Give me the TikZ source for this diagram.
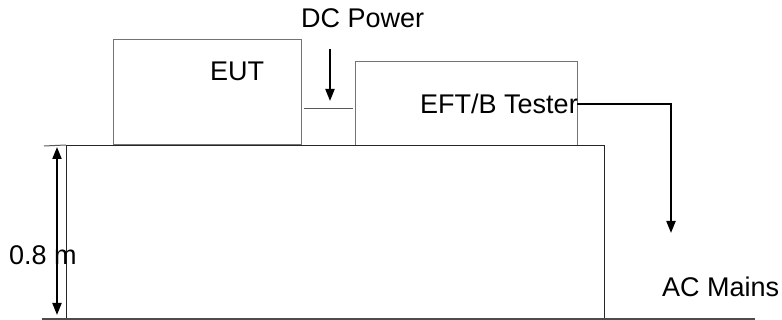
\documentclass[tikz,border=0pt]{standalone}
\usepackage{fontspec}
\setmainfont{Liberation Sans}
\usetikzlibrary{arrows.meta}
\tikzset{
  boxshape/.style={draw=black!55, line width=1pt, inner sep=0pt, anchor=north west},
  tablebox/.style={draw=black!85, line width=1pt, inner sep=0pt, anchor=north west},
  lbl/.style={inner sep=0pt, anchor=base west, font=\fontsize{27}{32}\selectfont},
  arr/.style={line width=2pt, -{Triangle[length=12pt,width=9pt]}},
  darr/.style={line width=2pt, {Triangle[length=12pt,width=9pt]}-{Triangle[length=12pt,width=9pt]}},
  thinline/.style={draw=black!65, line width=1pt}
}
\begin{document}
\begin{tikzpicture}[x=1pt,y=-1pt]
\useasboundingbox (0,0) rectangle (782,320);
% boxes
\node[boxshape, minimum width=188pt, minimum height=105pt] (eut) at (113,39) {};
\node[boxshape, minimum width=222pt, minimum height=84pt] (eft) at (355,61) {};
\node[tablebox, minimum width=538pt, minimum height=174pt] (table) at (66,145) {};
% ground line
\coordinate (gl) at (42,319);
\coordinate (gr) at (755,319);
\draw[draw=black!70, line width=1.5pt] (gl) -- (gr);
% top tick
\coordinate (tl) at (44,146);
\draw[thinline] (tl) -- (table.north west);
% labels
\node[lbl] (dc) at (301,28) {DC Power};
\node[lbl] (eutl) at (210,81) {EUT};
\node[lbl] (eftl) at (420,114) {EFT/B Tester};
\node[lbl] (h) at (9,265) {0.8 m};
\node[lbl] (ac) at (662,297) {AC Mains};
% DC power arrow and cable stub
\coordinate (dcs) at (330,49);
\coordinate (dce) at (330,101);
\draw[arr] (dcs) -- (dce);
\coordinate (cl) at (304,109);
\coordinate (cr) at (353,109);
\draw[thinline] (cl) -- (cr);
% AC mains cable
\coordinate (es) at (577,104);
\coordinate (ee) at (671,233);
\draw[arr] (es) -| (ee);
% height arrow
\coordinate (ht) at (57,147);
\coordinate (hb) at (57,315);
\draw[darr] (ht) -- (hb);
\end{tikzpicture}
\end{document}
